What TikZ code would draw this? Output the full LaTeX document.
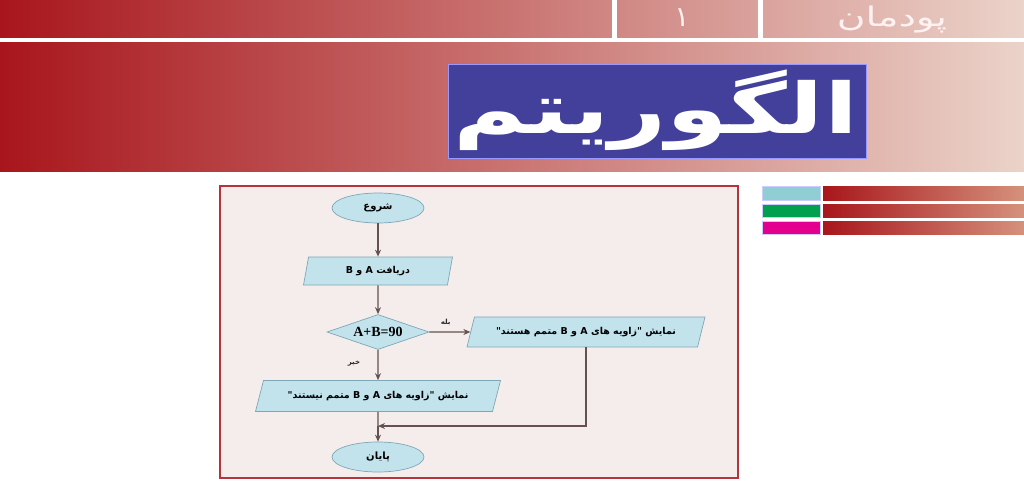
\documentclass[tikz,border=0pt]{standalone}
\usepackage{fontspec}
\usetikzlibrary{shapes.geometric,arrows.meta}
\TeXXeTstate=1
\newfontfamily\arabicfont[Script=Arabic]{DejaVu Sans}
\newfontfamily\latinserif{Liberation Serif}
\newcommand{\artext}[1]{{\arabicfont\beginR #1\endR}}
\definecolor{shapefill}{HTML}{C2E3EC}
\definecolor{shapeline}{HTML}{7FA7B6}
\definecolor{conn}{HTML}{65514F}
\definecolor{framebg}{HTML}{F4EDEC}
\definecolor{frameline}{HTML}{B5343C}
\definecolor{gradL}{HTML}{A8161C}
\definecolor{gradM}{HTML}{C4624E}
\definecolor{gradR}{HTML}{EBD3C9}
\definecolor{barR}{HTML}{D5917C}
\definecolor{titleblue}{HTML}{42409A}
\definecolor{teal}{HTML}{8FCFD4}
\definecolor{greenbar}{HTML}{00A04E}
\definecolor{magentabar}{HTML}{E4008E}
\tikzset{
  term/.style={ellipse, draw=shapeline, fill=shapefill, line width=0.7pt,
    minimum width=92, minimum height=30, inner sep=0pt, font=\fontsize{10}{11}\selectfont\bfseries},
  iobox/.style={trapezium, draw=shapeline, fill=shapefill, line width=0.7pt,
    trapezium stretches body=true, inner sep=0pt, font=\fontsize{9.5}{10}\selectfont\bfseries},
  decision/.style={diamond, draw=shapeline, fill=shapefill, line width=0.7pt,
    minimum width=102, minimum height=35, inner sep=0pt},
  conn/.style={draw=conn, line width=1.1pt, -{Stealth[length=7pt,width=6pt]}},
  plainconn/.style={draw=conn, line width=1.1pt},
  smalllabel/.style={font=\fontsize{7}{8}\selectfont\bfseries, text=black!85},
}
\begin{document}
\begin{tikzpicture}[x=1pt,y=-1pt]
\useasboundingbox (0,0) rectangle (1024,481);
\fill[white] (0,0) rectangle (1024,481);
% header bands
\shade[left color=gradL, middle color=gradM, right color=gradR] (0,0) rectangle (1024,38);
\shade[left color=gradL, middle color=gradM, right color=gradR] (0,43) rectangle (1024,172);
\fill[white] (612,0) rectangle (617,40);
\fill[white] (758,0) rectangle (763,40);
\node[text=white!95!red, font=\fontsize{27}{30}\selectfont] (podman) at (892,20) {\scalebox{1.45}[1]{\artext{پودمان}}};
\node[text=white!95!red, font=\fontsize{28}{30}\selectfont] (num) at (682,18) {\artext{۱}};
% title
\node[draw=blue!40!white, fill=titleblue, line width=0.8pt, minimum width=418, minimum height=94, inner sep=0pt] (titlebox) at (657,111) {};
\node[text=white, font=\fontsize{70}{76}\selectfont\bfseries] (title) at (656,110) {\scalebox{1.42}[1]{\artext{الگوریتم}}};
% right side bars
\fill[teal, draw=blue!20!white] (762,186) rectangle (820,200);
\fill[greenbar, draw=blue!20!white] (762,204) rectangle (820,217);
\fill[magentabar, draw=blue!20!white] (762,221) rectangle (820,234);
\shade[left color=gradL, right color=barR] (823,186) rectangle (1024,200);
\shade[left color=gradL, right color=barR] (823,204) rectangle (1024,217);
\shade[left color=gradL, right color=barR] (823,221) rectangle (1024,234);
% frame
\node[draw=frameline, fill=framebg, line width=1.2pt, minimum width=518, minimum height=292, inner sep=0pt] (frame) at (479,332) {};
% flowchart
\node[term] (start) at (378,208) {\artext{شروع}};
\node[iobox, minimum width=149, minimum height=28, trapezium left angle=62, trapezium right angle=118] (input) at (378,271) {\artext{دریافت A و B}};
\node[decision, label={[font=\latinserif\bfseries\fontsize{14}{15}\selectfont]center:A+B=90}] (dec) at (378,332) {};
\node[iobox, minimum width=238, minimum height=30, trapezium left angle=52, trapezium right angle=128] (yes) at (586,332) {\artext{نمایش "زاویه های A و B متمم هستند"}};
\node[iobox, minimum width=245, minimum height=31, trapezium left angle=50, trapezium right angle=130] (no) at (378,396) {\artext{نمایش "زاویه های A و B متمم نیستند"}};
\node[term] (stop) at (378,457) {\artext{پایان}};
\coordinate (merge) at (378,426);
\draw[conn] (start) -- (input);
\draw[conn] (input) -- (dec);
\draw[conn] (dec.east) -- (yes.west) node[smalllabel, pos=0.4, above=2pt] (yeslabel) {\artext{بله}};
\draw[conn] (dec.south) -- (no.north) node[smalllabel, pos=0.45, left=14pt] (nolabel) {\artext{خیر}};
\draw[plainconn] (no.south) -- (merge);
\draw[conn] (merge) -- (stop.north);
\draw[conn] (yes.south) |- (merge);
\end{tikzpicture}
\end{document}
